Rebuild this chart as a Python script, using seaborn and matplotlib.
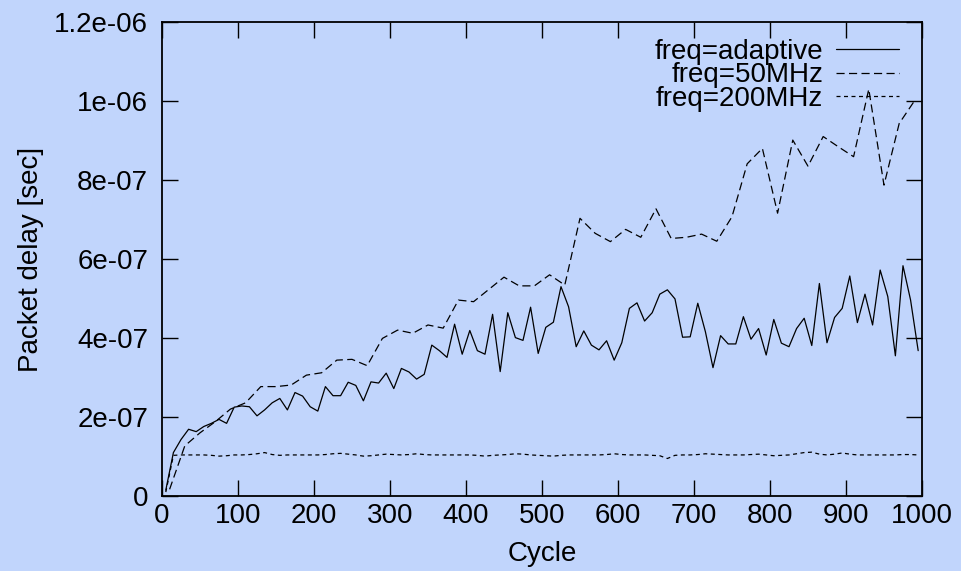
import numpy as np
import pandas as pd
import matplotlib
matplotlib.use("Agg")
import matplotlib.pyplot as plt
import seaborn as sns

BG = "#c1d5fc"

# packet delay in units of 1e-7 sec
adaptive_cycles = list(range(5, 1000, 10))
adaptive_delay = [
    0.15, 1.10, 1.43, 1.69, 1.63, 1.76, 1.84, 1.94, 1.84, 2.25,
    2.28, 2.26, 2.03, 2.18, 2.36, 2.47, 2.18, 2.62, 2.53, 2.26,
    2.15, 2.77, 2.54, 2.54, 2.88, 2.80, 2.41, 2.89, 2.86, 3.11,
    2.72, 3.23, 3.14, 2.96, 3.08, 3.82, 3.68, 3.51, 4.35, 3.59,
    4.19, 3.68, 3.59, 4.60, 3.15, 4.64, 4.01, 3.94, 4.78, 3.61,
    4.27, 4.40, 5.30, 4.79, 3.78, 4.18, 3.82, 3.70, 3.93, 3.44,
    3.88, 4.75, 4.89, 4.43, 4.64, 5.11, 5.22, 4.99, 4.02, 4.03,
    4.88, 4.16, 3.25, 4.06, 3.85, 3.85, 4.54, 3.97, 4.24, 3.57,
    4.47, 3.87, 3.78, 4.24, 4.50, 3.81, 5.38, 3.88, 4.52, 4.75,
    5.57, 4.39, 5.11, 4.33, 5.72, 5.05, 3.55, 5.83, 4.96, 3.68,
]

mhz50_cycles = list(range(10, 1000, 20))
mhz50_delay = [
    0.17, 1.27, 1.60, 1.88, 2.20, 2.36, 2.77, 2.77, 2.81, 3.06,
    3.12, 3.44, 3.46, 3.30, 3.99, 4.20, 4.12, 4.33, 4.25, 4.96,
    4.92, 5.23, 5.54, 5.32, 5.32, 5.60, 5.34, 7.03, 6.65, 6.44,
    6.75, 6.55, 7.27, 6.52, 6.55, 6.63, 6.45, 7.07, 8.41, 8.80,
    7.16, 9.01, 8.35, 9.10, 8.84, 8.59, 10.3, 7.87, 9.43, 10.0,
]

mhz200_cycles = list(range(5, 1000, 10))
mhz200_delay = [
    0.10, 1.03, 1.04, 1.04, 1.04, 1.04, 1.03, 1.01, 1.02, 1.04,
    1.04, 1.05, 1.07, 1.10, 1.05, 1.03, 1.04, 1.04, 1.04, 1.04,
    1.04, 1.05, 1.07, 1.08, 1.06, 1.04, 1.01, 1.02, 1.04, 1.06,
    1.05, 1.04, 1.05, 1.07, 1.05, 1.04, 1.04, 1.04, 1.04, 1.04,
    1.04, 1.03, 1.01, 1.03, 1.04, 1.05, 1.07, 1.06, 1.04, 1.03,
    1.02, 1.01, 1.03, 1.04, 1.04, 1.04, 1.04, 1.04, 1.05, 1.07,
    1.05, 1.04, 1.04, 1.04, 1.03, 1.02, 0.95, 1.03, 1.04, 1.04,
    1.05, 1.07, 1.06, 1.05, 1.04, 1.04, 1.04, 1.05, 1.06, 1.04,
    1.02, 1.03, 1.04, 1.07, 1.10, 1.11, 1.06, 1.04, 1.06, 1.09,
    1.06, 1.04, 1.04, 1.04, 1.04, 1.04, 1.04, 1.05, 1.05, 1.04,
]

labels = ["freq=adaptive", "freq=50MHz", "freq=200MHz"]
x_ticks = [0, 100, 200, 300, 400, 500, 600, 700, 800, 900, 1000]
y_ticks = [0, 2e-07, 4e-07, 6e-07, 8e-07, 1e-06, 1.2e-06]
y_tick_labels = ["0", "2e-07", "4e-07", "6e-07", "8e-07", "1e-06", "1.2e-06"]

sns.set_theme(style="ticks")
plt.rcParams["font.family"] = ["Liberation Sans", "DejaVu Sans"]
plt.rcParams.update({"text.color": "black", "axes.labelcolor": "black",
                     "xtick.color": "black", "ytick.color": "black"})

fig = plt.figure(figsize=(9.62, 5.71), dpi=100, facecolor=BG)
ax = fig.add_axes([0.1684, 0.1313, 0.7900, 0.8302])
ax.set_facecolor(BG)

series = [
    (labels[0], adaptive_cycles, adaptive_delay, "-"),
    (labels[1], mhz50_cycles, mhz50_delay, (0, (6.5, 3.5))),
    (labels[2], mhz200_cycles, mhz200_delay, (0, (3.2, 2.8))),
]
for label, cyc, vals, ls in series:
    df = pd.DataFrame({"Cycle": cyc, "delay": np.array(vals) * 1e-7})
    sns.lineplot(data=df, x="Cycle", y="delay", ax=ax, color="black",
                 lw=0.9, linestyle=ls, label=label, sort=False)

ax.set_xlim(0, 1000)
ax.set_ylim(0, 1.2e-06)
ax.set_xticks(x_ticks)
ax.set_xticklabels([str(t) for t in x_ticks])
ax.set_yticks(y_ticks)
ax.set_yticklabels(y_tick_labels)

ax.tick_params(axis="both", direction="in", length=11.5, width=1.0,
               top=True, right=True, labelsize=20, colors="black")
ax.tick_params(axis="y", pad=10)
ax.tick_params(axis="x", pad=5)
for sp in ax.spines.values():
    sp.set_color("black")
    sp.set_linewidth(1.3)

ax.set_xlabel("Cycle", fontsize=20, labelpad=9, color="black")
ax.set_ylabel("Packet delay [sec]", fontsize=20, labelpad=7, color="black")

# gnuplot-style key: labels right-aligned, line sample after the text
leg = ax.legend(loc="upper right", bbox_to_anchor=(0.993, 1.0), frameon=False,
                markerfirst=False, fontsize=20,
                handlelength=2.3, handletextpad=0.45, labelspacing=-0.1,
                borderaxespad=0.22, borderpad=0.4)
for t in leg.get_texts():
    t.set_color("black")

fig.savefig("out.png", dpi=100, facecolor=BG)
